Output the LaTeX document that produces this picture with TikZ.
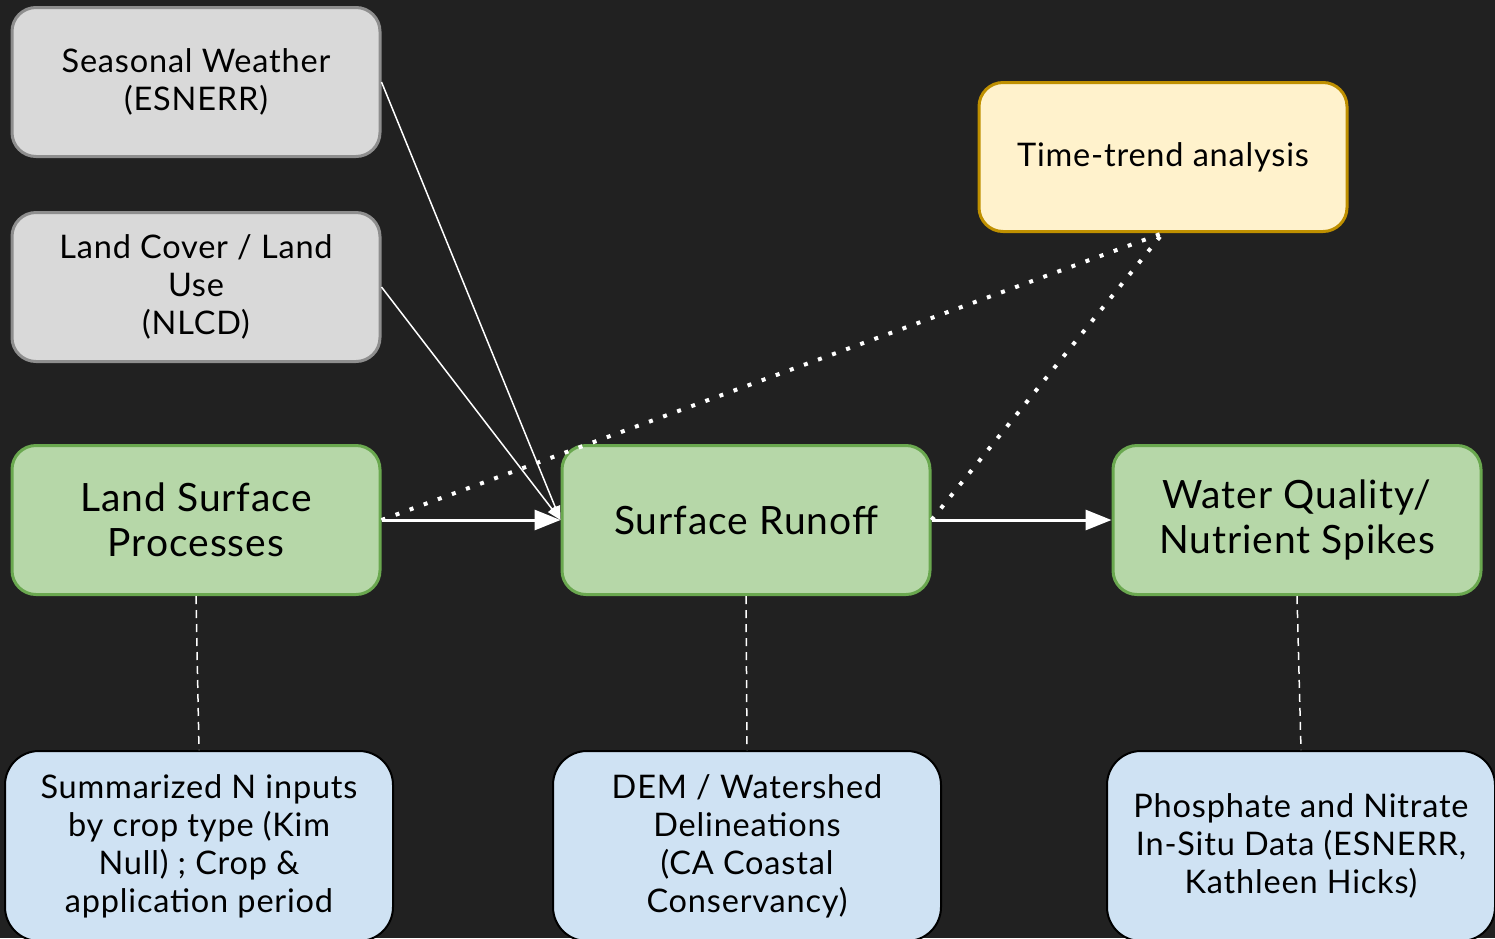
\documentclass[tikz,border=0pt]{standalone}
\usepackage{fontspec}
\setmainfont{Lato}[LetterSpace=2.5]
\usetikzlibrary{arrows.meta}
\definecolor{bgdark}{HTML}{212121}
\definecolor{boxgray}{HTML}{D9D9D9}
\definecolor{edgegray}{HTML}{8E8E8E}
\definecolor{boxgreen}{HTML}{B6D7A8}
\definecolor{edgegreen}{HTML}{6AA84F}
\definecolor{boxyellow}{HTML}{FFF2CC}
\definecolor{edgeyellow}{HTML}{BF9000}
\definecolor{boxblue}{HTML}{CFE2F3}
\tikzset{
  box/.style={rounded corners=24pt, line width=3pt, minimum width=368pt,
    minimum height=149pt, align=center, text=black},
  graybox/.style={box, fill=boxgray, draw=edgegray,
    font=\fontsize{32.5}{38}\selectfont},
  greenbox/.style={box, fill=boxgreen, draw=edgegreen,
    font=\fontsize{39}{45}\selectfont},
  yellowbox/.style={box, fill=boxyellow, draw=edgeyellow,
    font=\fontsize{32.5}{38}\selectfont},
  bluebox/.style={box, rounded corners=34pt, line width=2pt, fill=boxblue,
    draw=black, minimum width=388pt, minimum height=190pt,
    font=\fontsize{32.5}{38}\selectfont},
  flow/.style={white, line width=3pt, -{Triangle[length=26pt,width=20pt]}},
  feed/.style={white, line width=1.5pt, -{Triangle[length=14pt,width=10pt]}},
  trend/.style={white, line width=4pt, dash pattern=on 4pt off 11pt},
  link/.style={white, line width=1.5pt, dash pattern=on 8pt off 6pt}
}
\begin{document}
\begin{tikzpicture}[x=1pt,y=-1pt]
\fill[bgdark] (0,0) rectangle (1495,938);
\useasboundingbox (0,0) rectangle (1495,938);
\clip (0,0) rectangle (1495,938);
\node[graybox] (seasonal) at (196,82) {Seasonal Weather\\(ESNERR)};
\node[graybox] (landcover) at (196,287) {Land Cover / Land\\Use\\(NLCD)};
\node[yellowbox] (timetrend) at (1163,157) {Time-trend analysis};
\node[greenbox] (landsurf) at (196,520) {Land Surface\\Processes};
\node[greenbox] (runoff) at (746,520) {Surface Runoff};
\node[greenbox] (waterq) at (1297,520) {Water Quality/\\Nutrient Spikes};
\node[bluebox] (ninputs) at (199,846)
  {Summarized N inputs\\by crop type (Kim\\Null) ; Crop \&\\application period};
\node[bluebox] (dem) at (747,846)
  {DEM / Watershed\\Delineations\\(CA Coastal\\Conservancy)};
\node[bluebox] (insitu) at (1301,846)
  {Phosphate and Nitrate\\In-Situ Data (ESNERR,\\Kathleen Hicks)};
\draw[trend] (landsurf.east) -- (timetrend.south);
\draw[trend] (runoff.east) -- (timetrend.south);
\draw[feed] (seasonal.east) -- (runoff.west);
\draw[feed] (landcover.east) -- (runoff.west);
\draw[flow] (landsurf.east) -- (runoff.west);
\draw[flow] (runoff.east) -- (waterq.west);
\draw[link] (landsurf.south) -- (ninputs.north);
\draw[link] (runoff.south) -- (dem.north);
\draw[link] (waterq.south) -- (insitu.north);
\end{tikzpicture}
\end{document}
